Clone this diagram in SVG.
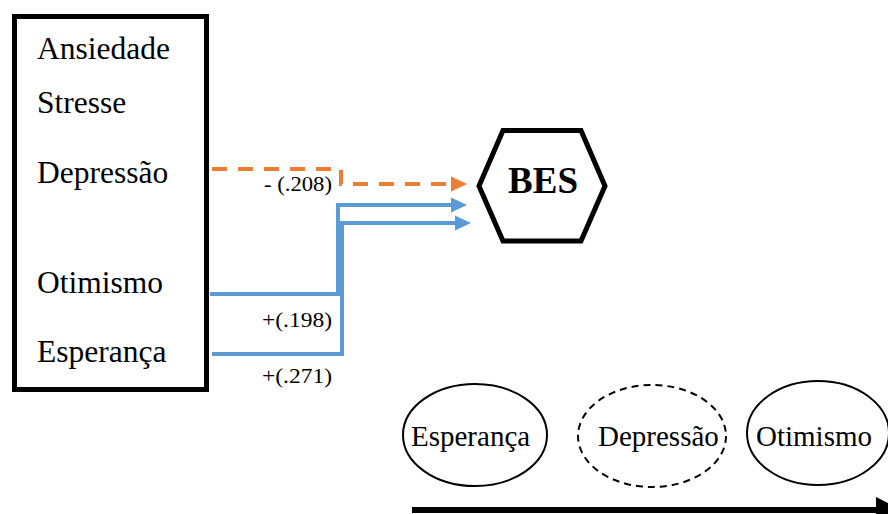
<svg xmlns="http://www.w3.org/2000/svg" width="888" height="514" viewBox="0 0 888 514">
<defs>
<style>
.t{font-family:"Liberation Serif","Times New Roman",serif;fill:#000}
.lbl{font-size:31.5px}
.w{font-size:21px}
.el{font-size:29px}
.bl{fill:none;stroke:#5B9BD5;stroke-width:4}
.or{fill:none;stroke:#ED7D31;stroke-width:4;stroke-dasharray:15 11}
</style>
<marker id="ao" markerUnits="userSpaceOnUse" markerWidth="16" markerHeight="16" refX="0" refY="8" orient="auto" viewBox="0 0 16 16">
<polygon points="0,0.5 16,8 0,15.5" fill="#ED7D31"/>
</marker>
<marker id="ab" markerUnits="userSpaceOnUse" markerWidth="16" markerHeight="16" refX="0" refY="8" orient="auto" viewBox="0 0 16 16">
<polygon points="0,0.5 16,8 0,15.5" fill="#5B9BD5"/>
</marker>
</defs>
<rect width="888" height="514" fill="#fff"/>
<g id="box">
<rect x="14.5" y="16.5" width="192" height="373" fill="#fff" stroke="#000" stroke-width="5"/>
<text class="t lbl" x="37" y="59">Ansiedade</text>
<text class="t lbl" x="37" y="113">Stresse</text>
<text class="t lbl" x="37" y="183">Depressão</text>
<text class="t lbl" x="37" y="293">Otimismo</text>
<text class="t lbl" x="37" y="362">Esperança</text>
</g>
<g id="bes">
<polygon points="479,186 503,130.5 581,130.5 605,186 581,241 503,241" fill="#fff" stroke="#000" stroke-width="5"/>
<text class="t" x="543" y="193" font-size="37" font-weight="bold" text-anchor="middle">BES</text>
</g>
<g id="connectors">
<path class="or" d="M212,169 H341 V184 H451" marker-end="url(#ao)"/>
<path class="bl" d="M210,294 H338 V205 H451" marker-end="url(#ab)"/>
<path class="bl" d="M212,354 H342 V223 H455" marker-end="url(#ab)"/>
<line x1="412" y1="510" x2="880" y2="510" stroke="#000" stroke-width="6"/>
<polygon points="876,497 902,510 876,523" fill="#000"/>
</g>
<g id="weights">
<text class="t w" x="264" y="191" textLength="68" lengthAdjust="spacingAndGlyphs">- (.208)</text>
<text class="t w" x="262" y="327" textLength="70" lengthAdjust="spacingAndGlyphs">+(.198)</text>
<text class="t w" x="262" y="383" textLength="70" lengthAdjust="spacingAndGlyphs">+(.271)</text>
</g>
<g id="esperanca">
<ellipse cx="475" cy="435" rx="72" ry="51" fill="none" stroke="#000" stroke-width="2"/>
<text class="t el" x="411" y="446">Esperança</text>
</g>
<g id="depressao">
<ellipse cx="652" cy="436" rx="74" ry="51" fill="none" stroke="#000" stroke-width="2" stroke-dasharray="7 5"/>
<text class="t el" x="598" y="446">Depressão</text>
</g>
<g id="otimismo">
<ellipse cx="818" cy="433" rx="71" ry="52" fill="none" stroke="#000" stroke-width="2"/>
<text class="t el" x="756" y="446">Otimismo</text>
</g>
</svg>
